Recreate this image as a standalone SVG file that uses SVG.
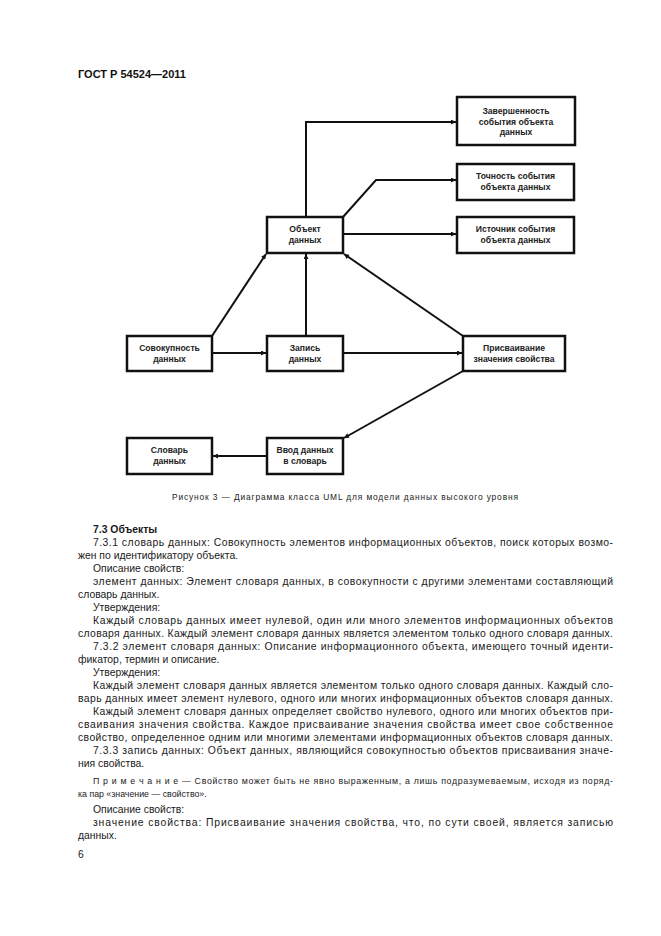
<svg xmlns="http://www.w3.org/2000/svg" width="661" height="936" viewBox="0 0 661 936">
<style>
.box{fill:#fff;stroke:#111;stroke-width:2.5}
.bt{font-family:"Liberation Sans",Arial,sans-serif;font-size:8.6px;font-weight:bold;fill:#222;text-anchor:middle}
.ln{fill:none;stroke:#111;stroke-width:2}
.tx{font-family:"Liberation Sans",Arial,sans-serif;font-size:10.4px;fill:#1a1a1a}
.nt{font-family:"Liberation Sans",Arial,sans-serif;font-size:8.8px;fill:#1a1a1a}
.hd{font-family:"Liberation Sans",Arial,sans-serif;font-size:11px;font-weight:bold;fill:#111}
.cap{font-family:"Liberation Sans",Arial,sans-serif;font-size:8.4px;fill:#222}
</style>
<defs>
<marker id="ah" viewBox="0 0 10 10" refX="10" refY="5" markerWidth="7" markerHeight="5" markerUnits="userSpaceOnUse" orient="auto">
<path d="M0,0 L10,5 L0,10 Z" fill="#111"/>
</marker>
</defs>
<rect width="661" height="936" fill="#fff"/>
<text class="hd" x="78" y="78">ГОСТ Р 54524—2011</text>

<g id="connectors">
<path class="ln" d="M306,217 L306,122 L456,122" marker-end="url(#ah)"/>
<path class="ln" d="M343,217 L376,180 L456,180" marker-end="url(#ah)"/>
<path class="ln" d="M343,234 L456,234" marker-end="url(#ah)"/>
<path class="ln" d="M212,336 L266,254" marker-end="url(#ah)"/>
<path class="ln" d="M306,336 L306,254" marker-end="url(#ah)"/>
<path class="ln" d="M463,336 L344,254" marker-end="url(#ah)"/>
<path class="ln" d="M212,353 L266,353" marker-end="url(#ah)"/>
<path class="ln" d="M343,353 L462,353" marker-end="url(#ah)"/>
<path class="ln" d="M463,371 L344,438" marker-end="url(#ah)"/>
<path class="ln" d="M267,456 L213,456" marker-end="url(#ah)"/>
</g>

<g id="n-zaversh">
<rect class="box" x="457" y="97" width="118" height="48"/>
<text class="bt" x="516" y="114">Завершенность</text>
<text class="bt" x="516" y="124.5">события объекта</text>
<text class="bt" x="516" y="135">данных</text>
</g>
<g id="n-tochnost">
<rect class="box" x="457" y="164" width="117" height="36"/>
<text class="bt" x="515.5" y="179">Точность события</text>
<text class="bt" x="515.5" y="189.5">объекта данных</text>
</g>
<g id="n-istochnik">
<rect class="box" x="457" y="217" width="117" height="36"/>
<text class="bt" x="515.5" y="232">Источник события</text>
<text class="bt" x="515.5" y="242.5">объекта данных</text>
</g>
<g id="n-obekt">
<rect class="box" x="267" y="217" width="76" height="36"/>
<text class="bt" x="305" y="232">Объект</text>
<text class="bt" x="305" y="242.5">данных</text>
</g>
<g id="n-sovokup">
<rect class="box" x="127" y="336" width="85" height="35"/>
<text class="bt" x="169.5" y="351">Совокупность</text>
<text class="bt" x="169.5" y="361.5">данных</text>
</g>
<g id="n-zapis">
<rect class="box" x="267" y="336" width="76" height="35"/>
<text class="bt" x="305" y="351">Запись</text>
<text class="bt" x="305" y="361.5">данных</text>
</g>
<g id="n-prisv">
<rect class="box" x="463" y="336" width="102" height="35"/>
<text class="bt" x="514" y="351">Присваивание</text>
<text class="bt" x="514" y="361.5">значения свойства</text>
</g>
<g id="n-vvod">
<rect class="box" x="267" y="438" width="76" height="36"/>
<text class="bt" x="305" y="453">Ввод данных</text>
<text class="bt" x="305" y="463.5">в словарь</text>
</g>
<g id="n-slovar">
<rect class="box" x="127" y="438" width="85" height="36"/>
<text class="bt" x="169.5" y="453">Словарь</text>
<text class="bt" x="169.5" y="463.5">данных</text>
</g>

<text class="cap" x="172" y="500" textLength="346" lengthAdjust="spacing">Рисунок  3 — Диаграмма класса UML для модели данных высокого уровня</text>

<g id="body">
<text class="tx" x="93" y="532.5" font-weight="bold">7.3  Объекты</text>
<text class="tx" x="93" y="545.5" textLength="520" lengthAdjust="spacing">7.3.1  словарь данных: Совокупность элементов информационных объектов, поиск которых возмо-</text>
<text class="tx" x="78" y="558.5">жен по идентификатору объекта.</text>
<text class="tx" x="93" y="571.5">Описание свойств:</text>
<text class="tx" x="93" y="584.5" textLength="520" lengthAdjust="spacing">элемент данных: Элемент словаря данных, в совокупности с другими элементами составляющий</text>
<text class="tx" x="78" y="597.5">словарь данных.</text>
<text class="tx" x="93" y="610.5">Утверждения:</text>
<text class="tx" x="93" y="623.5" textLength="520" lengthAdjust="spacing">Каждый словарь данных имеет нулевой, один или много элементов информационных объектов</text>
<text class="tx" x="78" y="636.5" textLength="535" lengthAdjust="spacing">словаря данных. Каждый элемент словаря данных является элементом только одного словаря данных.</text>
<text class="tx" x="93" y="649.5" textLength="520" lengthAdjust="spacing">7.3.2  элемент словаря данных: Описание информационного объекта, имеющего точный иденти-</text>
<text class="tx" x="78" y="662.5">фикатор, термин и описание.</text>
<text class="tx" x="93" y="675.5">Утверждения:</text>
<text class="tx" x="93" y="688.5" textLength="520" lengthAdjust="spacing">Каждый элемент словаря данных является элементом только одного словаря данных. Каждый сло-</text>
<text class="tx" x="78" y="701.5" textLength="535" lengthAdjust="spacing">варь данных имеет элемент нулевого, одного или многих информационных объектов словаря данных.</text>
<text class="tx" x="93" y="714.5" textLength="520" lengthAdjust="spacing">Каждый элемент словаря данных определяет свойство нулевого, одного или многих объектов при-</text>
<text class="tx" x="78" y="727.5" textLength="535" lengthAdjust="spacing">сваивания значения свойства. Каждое присваивание значения свойства имеет свое собственное</text>
<text class="tx" x="78" y="740.5" textLength="535" lengthAdjust="spacing">свойство, определенное одним или многими элементами информационных объектов словаря данных.</text>
<text class="tx" x="93" y="753.5" textLength="520" lengthAdjust="spacing">7.3.3  запись данных: Объект данных, являющийся совокупностью объектов присваивания значе-</text>
<text class="tx" x="78" y="766.5">ния свойства.</text>
<text class="nt" x="93" y="783.5" textLength="520" lengthAdjust="spacing">П р и м е ч а н и е — Свойство может быть не явно выраженным, а лишь подразумеваемым, исходя из поряд-</text>
<text class="nt" x="78" y="796.5">ка пар «значение — свойство».</text>
<text class="tx" x="93" y="812.5">Описание свойств:</text>
<text class="tx" x="93" y="825.5" textLength="520" lengthAdjust="spacing">значение свойства: Присваивание значения свойства, что, по сути своей, является записью</text>
<text class="tx" x="78" y="838.5">данных.</text>
<text class="tx" x="78" y="858">6</text>
</g>
</svg>
